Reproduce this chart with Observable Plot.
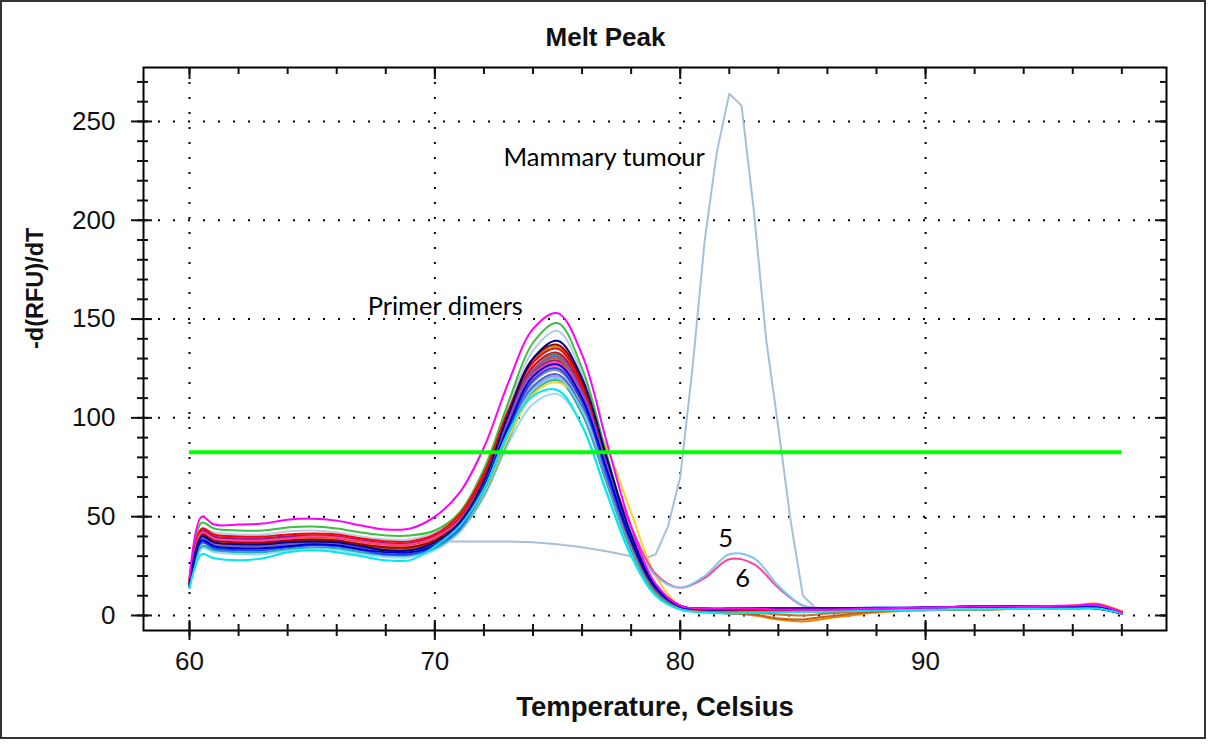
<!DOCTYPE html>
<html><head><meta charset="utf-8">
<script src="https://cdn.jsdelivr.net/npm/d3@7"></script>
<script src="https://cdn.jsdelivr.net/npm/@observablehq/plot@0.6"></script>
<style>
body{margin:0;background:#fff;}
#chart{position:absolute;left:0;top:0;}
#border{position:absolute;left:0;top:0;width:1206px;height:739px;border:2px solid #333;box-sizing:border-box;pointer-events:none;}
</style></head><body>
<div id="chart"></div><div id="border"></div>
<script>
// ---- data ----
const titleText = "Melt Peak";
const xLabelText = "Temperature, Celsius";
const yLabelText = "-d(RFU)/dT";
const xMajor = [60, 70, 80, 90];
const xMinor = [60,62,64,66,68,70,72,74,76,78,80,82,84,86,88,90,92,94,96,98];
const yMajor = [0, 50, 100, 150, 200, 250];
const yMinor = [0,10,20,30,40,50,60,70,80,90,100,110,120,130,140,150,160,170,180,190,200,210,220,230,240,250,260,270];
const thresholdValue = 82.6;

const temps = [60,60.5,61,62,63,64,65,66,67,68,69,70,71,72,73,74,75,76,77,78,79,80,81,82,83,84,85,86,88,90,92,94,96,97,98];

const steel    = [17,44,42,41,41,42.5,43,42,40,38.5,38.5,42,52,74,106,134,144,122,80,40,14,4.5,3,3,3,3,3,3,3,3.5,4,4,4,4.5,1];
const lightsky = [14,34,32,31,31,32.5,33.5,33,31,29.5,29.5,33,42,60,87,107,112,96,63,31,11,3,2,2,2,2,2,2,2.5,3,3,3.5,3.5,3.5,1];
const seagreen = [14,35,33,32,32,33.5,34.5,34,32,30.5,30.5,34,43,61,89,113,119,102,67,33,11.5,3.5,2,2,2,2,2,2,2.5,3,3,3.5,3.5,3.5,1];
const lavender = [16,41,38,37,37,38,38.5,38,36,34.5,34.5,38,46,64,92,115,121,104,69,35,12.5,4,3,3,3,3,3,3,3,3,3.5,3.5,4,4,1];
const gray     = [16,40,37,36,36,37,37.5,37,35,33.5,33.5,37,46,65,94,118,124,107,71,36,13,4,3,3,3,3,3,3,3,3,3.5,3.5,3.5,4,1];
const yellow   = [15,39,36,35,35,36,37,36.5,34.5,33,33,36.5,44,62,90,112,118,108,85,52,20,5,3,2.5,2.5,2.5,2.5,2.5,3,3,3.5,3.5,3.5,4,1];
const royal    = [15,38,35,34,34,35,36,35.5,33.5,32,32,35.5,44,63,92,116,122,105,70,36,13,4,3,3,3,3,3,3,3.5,3.5,4,4,4,4,1];
const olive    = [17,43,40,39,39,40,41,40,38,36.5,36.5,40,50,71,103,129,136,117,78,39,14,4.5,3,3,3,3,3,3,3,3,3.5,3.5,3.5,4,1];
const green    = [18,47,44,43,43,44.5,45,44,42,40.5,40.5,43,52,74,108,138,148,125,82,40,14,4,2.5,2.5,2.5,2.5,2.5,2.5,3,3,3.5,3.5,3.5,4,1];
const forest   = [16,42,39,38,38,39,40,39.5,37.5,36,36,39,48,69,100,125,132,113,75,37,13,4,2.5,2.5,2.5,2.5,2.5,2.5,3,3,3.5,3.5,3.5,4,1];
const hotpink  = [16,40,37,36,36,37,38,37.5,35.5,34,34,37.5,46,66,96,120,126,109,74,38,13.5,4.5,3,3,3,3,3,3,3,3.5,3.5,4,4.5,5,1.5];
const purple   = [17,43,40,39,39,40,40.5,40,38,36.5,36.5,40,49,69,99,123,129,111,74,37,13,4,3,3,3,3,3,3,3,3.5,3.5,4,4,4.5,1];
const chocolate= [16,40,37,36,36,37,38,37.5,35.5,34,34,37.5,47,67,97,121,128,110,74,37,13,4,2.5,2,1.5,0.5,0,1,2.5,3,3,3.5,4.5,5.5,2];
const orange   = [16,41,38,37,37,38,39,38.5,36.5,35,35,38.5,48,69,100,125,131,112,74,37,13,4,2,1,0,-2,-3,-1.5,1.5,2.5,3,3.5,5,6,2];
const brown    = [16,40,37,36,36,37,38,37.5,35.5,34,34,37.5,47,68,99,124,130,111,73,36,12.5,4,2,1,0.5,-1.5,-2,-0.5,2,3,3,3.5,4,4.5,1.5];
const darkred  = [16,41,38,37,37,38,38.5,38,36,34.5,34.5,38,48,70,103,130,137,118,79,40,14.5,5,3,3,3,3,3,3,3,3.5,4,4,4.5,5,1.5];
const crimson  = [16,42,39,38,38,39,40,39.5,37.5,36,36,39.5,49,70,101,126,133,114,76,38,13.5,4.5,3,3,3,3,3,3,3,3.5,3.5,4,4,4.5,1.5];
const red      = [17,44,41,40,40,41,41.5,41,39,37.5,37.5,41,51,72,104,128,135,116,77,39,14,4.5,3,3,3,3,3,3,3,3.5,4,4,4.5,5,1.5];
const sample6  = [16,42,39,38,38,39,40,39.5,37.5,36,36,39.5,48,68,98,122,128,111,76,45,21,14,19,28.5,26,14,5,3.5,3,3,3.5,3.5,4,4.5,1.5];
const sample5  = [15,37,34,33,33,34.5,35.5,35,33,31.5,31.5,35,44,63,92,114,120,104,72,42,20,14,20,31,29,15,5,3.5,3,3,3.5,3.5,3.5,4,1];
const slate    = [15,39,36,35,35,36,37,36.5,34.5,33,33,36.5,46,67,99,124,131,113,76,39,14,4.5,3.5,3.5,3.5,3.5,3.5,3.5,3.5,4,4.5,4.5,4.5,4.5,1.5];
const blue     = [15,37,34,33,33,34.5,35.5,35,33,31,31,35,44,64,94,119,125,108,72,37,13.5,4.5,3.5,3.5,3.5,3.5,3.5,3.5,4,4,4.5,4.5,4,3.5,1];
const darkblue = [15,38,35,34,34,35,36,35.5,33.5,32,32,35.5,45,65,96,121,127,110,74,38,14,4.5,3.5,3.5,3.5,3.5,3.5,3.5,3.5,4,4.5,4.5,4.5,4,1.5];
const navy     = [16,40,37,36,36,37,37.5,37,35,33,33,37,47,68,102,130,139,120,80,41,15,5,3,3,3.5,3.5,3.5,3.5,3.5,4,4.5,4.5,4,3.5,1];
const cyan     = [14,31,29,28,29,32,33,32,30,28,28,35,45,64,93,111,114,96,62,30,10,3,1.5,1,1.5,1.5,2,2,2.5,3,3,3.5,3.5,3.5,1];
const magenta  = [19,50,46,46,46.5,48.5,49,48,45.5,43.5,44,50,62,85,118,145,153,132,88,45,16,5,3.5,3.5,3.5,3,3,3,3.5,4,4.5,4.5,5,5.5,1.5];

const mammaryTemps  = [60,60.5,61,62,63,64,65,66,67,68,69,70,71,72,73,74,75,76,77,78,78.5,79,79.5,80,80.5,81,81.5,82,82.5,83,83.5,84,84.5,85,85.5,86,88,90,92,94,96,97,98];
const mammaryValues = [16,36,33,33,35,39,40.5,40,39,38,37.5,37.5,37.5,37.5,37.5,37,36,34.5,32.5,30,28.5,31,45,70,125,190,235,264,258,205,140,95,48,10,4,3.5,3,3,3.5,4,3.5,3.5,1];

const seriesList = [
  {name: "steel", color: "#b4cce6", values: steel},
  {name: "lightsky", color: "#9fd6f2", values: lightsky},
  {name: "seagreen", color: "#20b2aa", values: seagreen},
  {name: "lavender", color: "#a993d9", values: lavender},
  {name: "gray", color: "#8c8c8c", values: gray},
  {name: "yellow", color: "#ffd21f", values: yellow},
  {name: "royal", color: "#4169e1", values: royal},
  {name: "olive", color: "#9c9c1f", values: olive},
  {name: "green", color: "#3fbf3f", values: green},
  {name: "forest", color: "#2e8b57", values: forest},
  {name: "hotpink", color: "#ff69b4", values: hotpink},
  {name: "purple", color: "#8b1a8b", values: purple},
  {name: "chocolate", color: "#d2691e", values: chocolate},
  {name: "orange", color: "#ff8000", values: orange},
  {name: "brown", color: "#b5651d", values: brown},
  {name: "darkred", color: "#a00000", values: darkred},
  {name: "crimson", color: "#c8102e", values: crimson},
  {name: "red", color: "#ff0000", values: red},
  {name: "6", color: "#ff3fa0", values: sample6},
  {name: "5", color: "#7fc9e8", values: sample5},
  {name: "slate", color: "#6a5acd", values: slate},
  {name: "blue", color: "#1f45ff", values: blue},
  {name: "darkblue", color: "#0000cd", values: darkblue},
  {name: "navy", color: "#000080", values: navy},
  {name: "cyan", color: "#00e8f0", values: cyan},
  {name: "magenta", color: "#ff00ff", values: magenta}
];
const mammaryColor = "#a7bfdc";

const labelsStart = [
  {label: "Mammary tumour", t: 72.8, v: 231.8},
  {label: "Primer dimers", t: 67.26, v: 156.4}
];
const labelsMiddle = [
  {label: "5", t: 81.85, v: 39},
  {label: "6", t: 82.54, v: 18.7}
];

// ---- build tables ----
const rows = seriesList.flatMap(s => temps.map((t, i) => ({t, v: s.values[i], name: s.name, color: s.color})));
const mammaryRows = mammaryTemps.map((t, i) => ({t, v: mammaryValues[i]}));
const thresholdRows = [{value: thresholdValue, from: temps[0], to: temps[temps.length - 1]}];

const dots = {stroke: "#000", strokeOpacity: 1, strokeWidth: 2, strokeDasharray: "2,13"};
const noText = () => "";
const annFont = "Lato, 'Open Sans', sans-serif";

const chart = Plot.plot({
  width: 1210, height: 744,
  marginLeft: 143, marginRight: 44, marginTop: 67, marginBottom: 114,
  style: {fontFamily: "'Liberation Sans', Arial, sans-serif", fontSize: "26px", color: "#111", background: "transparent"},
  x: {domain: [58.125, 99.82]},
  y: {domain: [-7.6, 277.3]},
  color: {type: "identity"},
  marks: [
    Plot.gridX(xMajor, dots),
    Plot.gridY(yMajor, dots),
    Plot.line(mammaryRows, {x: "t", y: "v", stroke: mammaryColor, strokeWidth: 2}),
    Plot.line(rows, {x: "t", y: "v", z: "name", stroke: "color", strokeWidth: 2, curve: "catmull-rom"}),
    Plot.ruleY(thresholdRows, {y: "value", x1: "from", x2: "to", stroke: "#00ff00", strokeWidth: 4}),
    Plot.frame({stroke: "#000", strokeWidth: 2}),
    // bottom axis
    Plot.axisX(xMinor, {anchor: "bottom", tickSize: 12, dy: -6, tickFormat: noText, label: null, strokeWidth: 2}),
    Plot.axisX(xMajor, {anchor: "bottom", tickSize: 20, dy: -10, tickPadding: 11, label: null, strokeWidth: 2}),
    // top axis
    Plot.axisX(xMinor, {anchor: "top", tickSize: 6, dy: 6, tickFormat: noText, label: null, strokeWidth: 2}),
    Plot.axisX(xMajor, {anchor: "top", tickSize: 11, dy: 11, tickFormat: noText, label: null, strokeWidth: 2}),
    // left axis
    Plot.axisY(yMinor, {anchor: "left", tickSize: 11, dx: 5, tickFormat: noText, label: null, strokeWidth: 2}),
    Plot.axisY(yMajor, {anchor: "left", tickSize: 21, dx: 9, tickPadding: 16, label: null, strokeWidth: 2}),
    // right axis
    Plot.axisY(yMinor, {anchor: "right", tickSize: 7, dx: -7, tickFormat: noText, label: null, strokeWidth: 2}),
    Plot.axisY(yMajor, {anchor: "right", tickSize: 12, dx: -12, tickFormat: noText, label: null, strokeWidth: 2}),
    // titles
    Plot.text([titleText], {text: d => d, frameAnchor: "top", lineAnchor: "middle", dx: -49.5, dy: -30, fontWeight: "bold", fontSize: 26, fill: "#111"}),
    Plot.text([xLabelText], {text: d => d, frameAnchor: "bottom", lineAnchor: "middle", dy: 77, fontWeight: "bold", fontSize: 27.5, fill: "#111"}),
    Plot.text([yLabelText], {text: d => d, frameAnchor: "left", lineAnchor: "middle", rotate: -90, dx: -108, fontWeight: "bold", fontSize: 23.5, fill: "#111"}),
    // annotations
    Plot.text(labelsStart, {x: "t", y: "v", text: "label", textAnchor: "start", fontFamily: annFont, fontSize: 25.5, fill: "#000"}),
    Plot.text(labelsMiddle, {x: "t", y: "v", text: "label", fontFamily: annFont, fontSize: 25.5, fill: "#000"})
  ]
});
document.getElementById("chart").appendChild(chart);
</script>
</body></html>
